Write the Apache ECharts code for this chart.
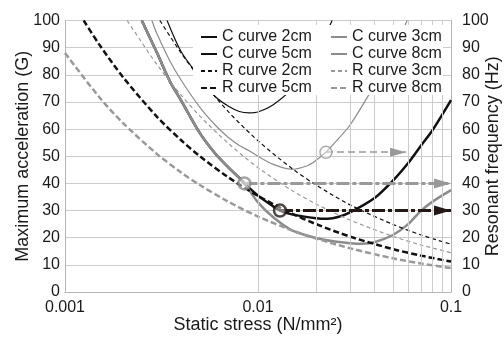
<!DOCTYPE html>
<html>
<head>
<meta charset="utf-8">
<script src="https://cdn.jsdelivr.net/npm/echarts@6/dist/echarts.min.js"></script>
<style>
  html, body { margin: 0; padding: 0; background: #fff; }
  #chart { width: 504px; height: 337px; }
</style>
</head>
<body>
<div id="chart"></div>
<script>
const xTickLabels = ["0.001", "0.01", "0.1"];
const xMinorGrid = [0.002, 0.003, 0.004, 0.005, 0.006, 0.007, 0.008, 0.009,
  0.02, 0.03, 0.04, 0.05, 0.06, 0.07, 0.08, 0.09];

// C curves (max acceleration, G)
const cCurve2cm = [[0.00338, 100], [0.004, 88.5], [0.005, 79], [0.006, 72], [0.007, 68.5],
  [0.008, 66.5], [0.009, 66], [0.01, 66.3], [0.012, 69], [0.015, 75], [0.02, 88], [0.0242, 100]];
const cCurve3cm = [[0.00282, 100], [0.003, 95], [0.0035, 85], [0.004, 78], [0.005, 68],
  [0.006, 61.5], [0.007, 57], [0.008, 54], [0.009, 52], [0.01, 50], [0.012, 47], [0.015, 45.2],
  [0.018, 46.5], [0.02, 48.5], [0.0225, 51.5], [0.025, 55], [0.03, 61.5], [0.04, 76],
  [0.05, 88], [0.0592, 100]];
const cCurve5cm = [[0.0025, 100], [0.003, 88], [0.0035, 77.5], [0.004, 70.5], [0.005, 58.5],
  [0.006, 51], [0.007, 46], [0.008, 42], [0.0085, 40], [0.01, 35.5], [0.012, 31.5], [0.013, 30],
  [0.015, 28.6], [0.02, 27.2], [0.023, 27], [0.026, 27.6], [0.03, 29.3], [0.04, 34.5],
  [0.05, 41], [0.06, 47.5], [0.07, 54], [0.08, 59.5], [0.1, 70.7]];
const cCurve8cm = [[0.0025, 100], [0.003, 88], [0.0035, 77.5], [0.004, 70.5], [0.005, 58.5],
  [0.006, 51], [0.007, 46], [0.008, 42], [0.0085, 40], [0.01, 33], [0.012, 27.5], [0.015, 22.7],
  [0.02, 19.9], [0.025, 18.6], [0.03, 18], [0.035, 17.8], [0.04, 18.3], [0.05, 21],
  [0.06, 25], [0.07, 30], [0.08, 33.2], [0.1, 37.5]];

// R curves (resonant frequency, Hz)
const rCurve2cm = [[0.0031, 100], [0.004, 88], [0.005, 78.7], [0.007, 66.5], [0.01, 55.7],
  [0.015, 45.5], [0.02, 39.4], [0.03, 32.1], [0.05, 24.9], [0.07, 21], [0.1, 17.6]];
const rCurve3cm = [[0.0021, 100], [0.003, 83.7], [0.004, 72.5], [0.005, 64.8], [0.007, 54.8],
  [0.01, 45.8], [0.015, 37.4], [0.02, 32.4], [0.03, 26.5], [0.05, 20.5], [0.07, 17.3], [0.1, 14.5]];
const rCurve5cm = [[0.00125, 100], [0.0015, 91.3], [0.002, 79.1], [0.003, 64.5], [0.004, 55.9],
  [0.005, 50], [0.007, 42.3], [0.01, 35.4], [0.015, 28.9], [0.02, 25], [0.03, 20.4],
  [0.05, 15.8], [0.07, 13.4], [0.1, 11.2]];
const rCurve8cm = [[0.001, 88], [0.0015, 71.9], [0.002, 62.2], [0.003, 50.8], [0.004, 44],
  [0.005, 39.4], [0.007, 33.3], [0.01, 27.8], [0.015, 22.7], [0.02, 19.7], [0.03, 16.1],
  [0.05, 12.4], [0.07, 10.5], [0.1, 8.8]];

// marked points and the arrows leaving them: [from x, to x, y]
const circlePoints = [[0.0225, 51.5], [0.0085, 40], [0.013, 30]];
const arrowLines = [[0.0225, 0.0585, 51.5], [0.0085, 0.1, 40], [0.013, 0.1, 30]];

const FONT = "'Liberation Sans', Arial, sans-serif";
const INK = "#1a1a1a";
const DARK = "#231815";

const chart = echarts.init(document.getElementById("chart"), null, { renderer: "canvas" });

function curve(name, data, color, width, dash) {
  return {
    name: name,
    type: "line",
    data: data,
    smooth: 0.3,
    showSymbol: false,
    symbol: "none",
    z: 3,
    itemStyle: { color: color },
    lineStyle: { color: color, width: width, type: dash || "solid" },
  };
}

function legendColumn(names, left) {
  return {
    data: names,
    orient: "vertical",
    left: left,
    top: 28.5,
    padding: 0,
    itemWidth: 16,
    itemHeight: 14,
    itemGap: 0,
    selectedMode: false,
    z: 10,
    itemStyle: { opacity: 0 },
    textStyle: { fontFamily: FONT, fontSize: 16, lineHeight: 17, color: INK },
  };
}

const circleStyles = [
  { borderColor: "#999999", borderWidth: 1.5 },
  { borderColor: "#8c8c8c", borderWidth: 2.5 },
  { borderColor: DARK, borderWidth: 2.5 },
];
const arrowStyles = [
  { color: "#999999", width: 1.5, type: [7, 4], head: [9, 16] },
  { color: "#999999", width: 3, type: [13, 3, 4, 3], head: [10, 17] },
  { color: DARK, width: 3, type: [13, 3, 4, 3], head: [10, 17] },
];

chart.setOption({
  animation: false,
  backgroundColor: "#fff",
  grid: { left: 65, right: 53, top: 20.5, bottom: 45, outerBoundsMode: "none" },
  graphic: [
    {
      type: "rect",
      left: 193,
      top: 25,
      z: 8,
      shape: { width: 250, height: 70 },
      style: { fill: "#fff" },
    },
  ],
  legend: [
    legendColumn(["C curve 2cm", "C curve 5cm", "R curve 2cm", "R curve 5cm"], 200),
    legendColumn(["C curve 3cm", "C curve 8cm", "R curve 3cm", "R curve 8cm"], 330),
  ],
  xAxis: {
    type: "log",
    logBase: 10,
    min: 0.001,
    max: 0.1,
    name: "Static stress (N/mm²)",
    nameLocation: "middle",
    nameMoveOverlap: false,
    nameGap: 24,
    nameTextStyle: { fontFamily: FONT, fontSize: 18, color: INK },
    axisLine: { lineStyle: { color: "#b5b5b5" } },
    axisTick: { show: false },
    axisLabel: {
      margin: 8,
      fontFamily: FONT,
      fontSize: 16,
      color: INK,
      formatter: (value, index) => xTickLabels[index],
    },
    splitLine: { show: true, lineStyle: { color: "#cccccc" } },
  },
  yAxis: [
    {
      type: "value",
      min: 0,
      max: 100,
      interval: 10,
      name: "Maximum acceleration (G)",
      nameLocation: "middle",
      nameMoveOverlap: false,
      nameRotate: 90,
      nameGap: 33,
      nameTextStyle: { fontFamily: FONT, fontSize: 18, color: INK },
      axisLine: { show: true, lineStyle: { color: "#b5b5b5" } },
      axisTick: { show: false },
      axisLabel: { margin: 5, fontFamily: FONT, fontSize: 16, color: INK },
      splitLine: { lineStyle: { color: "#cccccc" } },
    },
    {
      type: "value",
      min: 0,
      max: 100,
      interval: 10,
      position: "right",
      name: "Resonant frequency (Hz)",
      nameLocation: "middle",
      nameMoveOverlap: false,
      nameRotate: 90,
      nameGap: 33,
      nameTextStyle: { fontFamily: FONT, fontSize: 18, color: INK },
      axisLine: { show: true, lineStyle: { color: "#b5b5b5" } },
      axisTick: { show: false },
      axisLabel: { margin: 11, fontFamily: FONT, fontSize: 16, color: INK },
      splitLine: { show: false },
    },
  ],
  series: [
    {
      name: "minor-grid",
      type: "line",
      data: [],
      silent: true,
      z: 1,
      markLine: {
        silent: true,
        symbol: "none",
        label: { show: false },
        lineStyle: { color: "#cccccc", width: 1, type: "solid" },
        data: xMinorGrid.map((v) => ({ xAxis: v })),
      },
    },
    curve("C curve 2cm", cCurve2cm, "#111111", 1.2),
    curve("C curve 3cm", cCurve3cm, "#8c8c8c", 1.2),
    curve("C curve 5cm", cCurve5cm, "#111111", 2.5),
    curve("C curve 8cm", cCurve8cm, "#8c8c8c", 2.5),
    curve("R curve 2cm", rCurve2cm, "#111111", 1.2, [4, 3]),
    curve("R curve 3cm", rCurve3cm, "#999999", 1.2, [4, 3]),
    curve("R curve 5cm", rCurve5cm, "#111111", 2.5, [6, 3]),
    curve("R curve 8cm", rCurve8cm, "#999999", 2.5, [6, 3]),
    {
      name: "arrows",
      type: "line",
      data: [],
      silent: true,
      z: 4,
      markLine: {
        silent: true,
        label: { show: false },
        data: arrowLines.map((a, i) => [
          {
            coord: [a[0], a[2]],
            symbol: "none",
            lineStyle: { color: arrowStyles[i].color, width: arrowStyles[i].width, type: arrowStyles[i].type },
          },
          {
            coord: [a[1], a[2]],
            symbol: "triangle",
            symbolSize: arrowStyles[i].head,
            symbolOffset: [0, "50%"],
            itemStyle: { color: arrowStyles[i].color },
          },
        ]),
      },
    },
    {
      name: "points",
      type: "scatter",
      silent: true,
      z: 5,
      symbolSize: 12,
      data: circlePoints.map((p, i) => ({
        value: p,
        itemStyle: Object.assign({ color: "rgba(255,255,255,0.55)" }, circleStyles[i]),
      })),
    },
  ],
});
</script>
</body>
</html>
